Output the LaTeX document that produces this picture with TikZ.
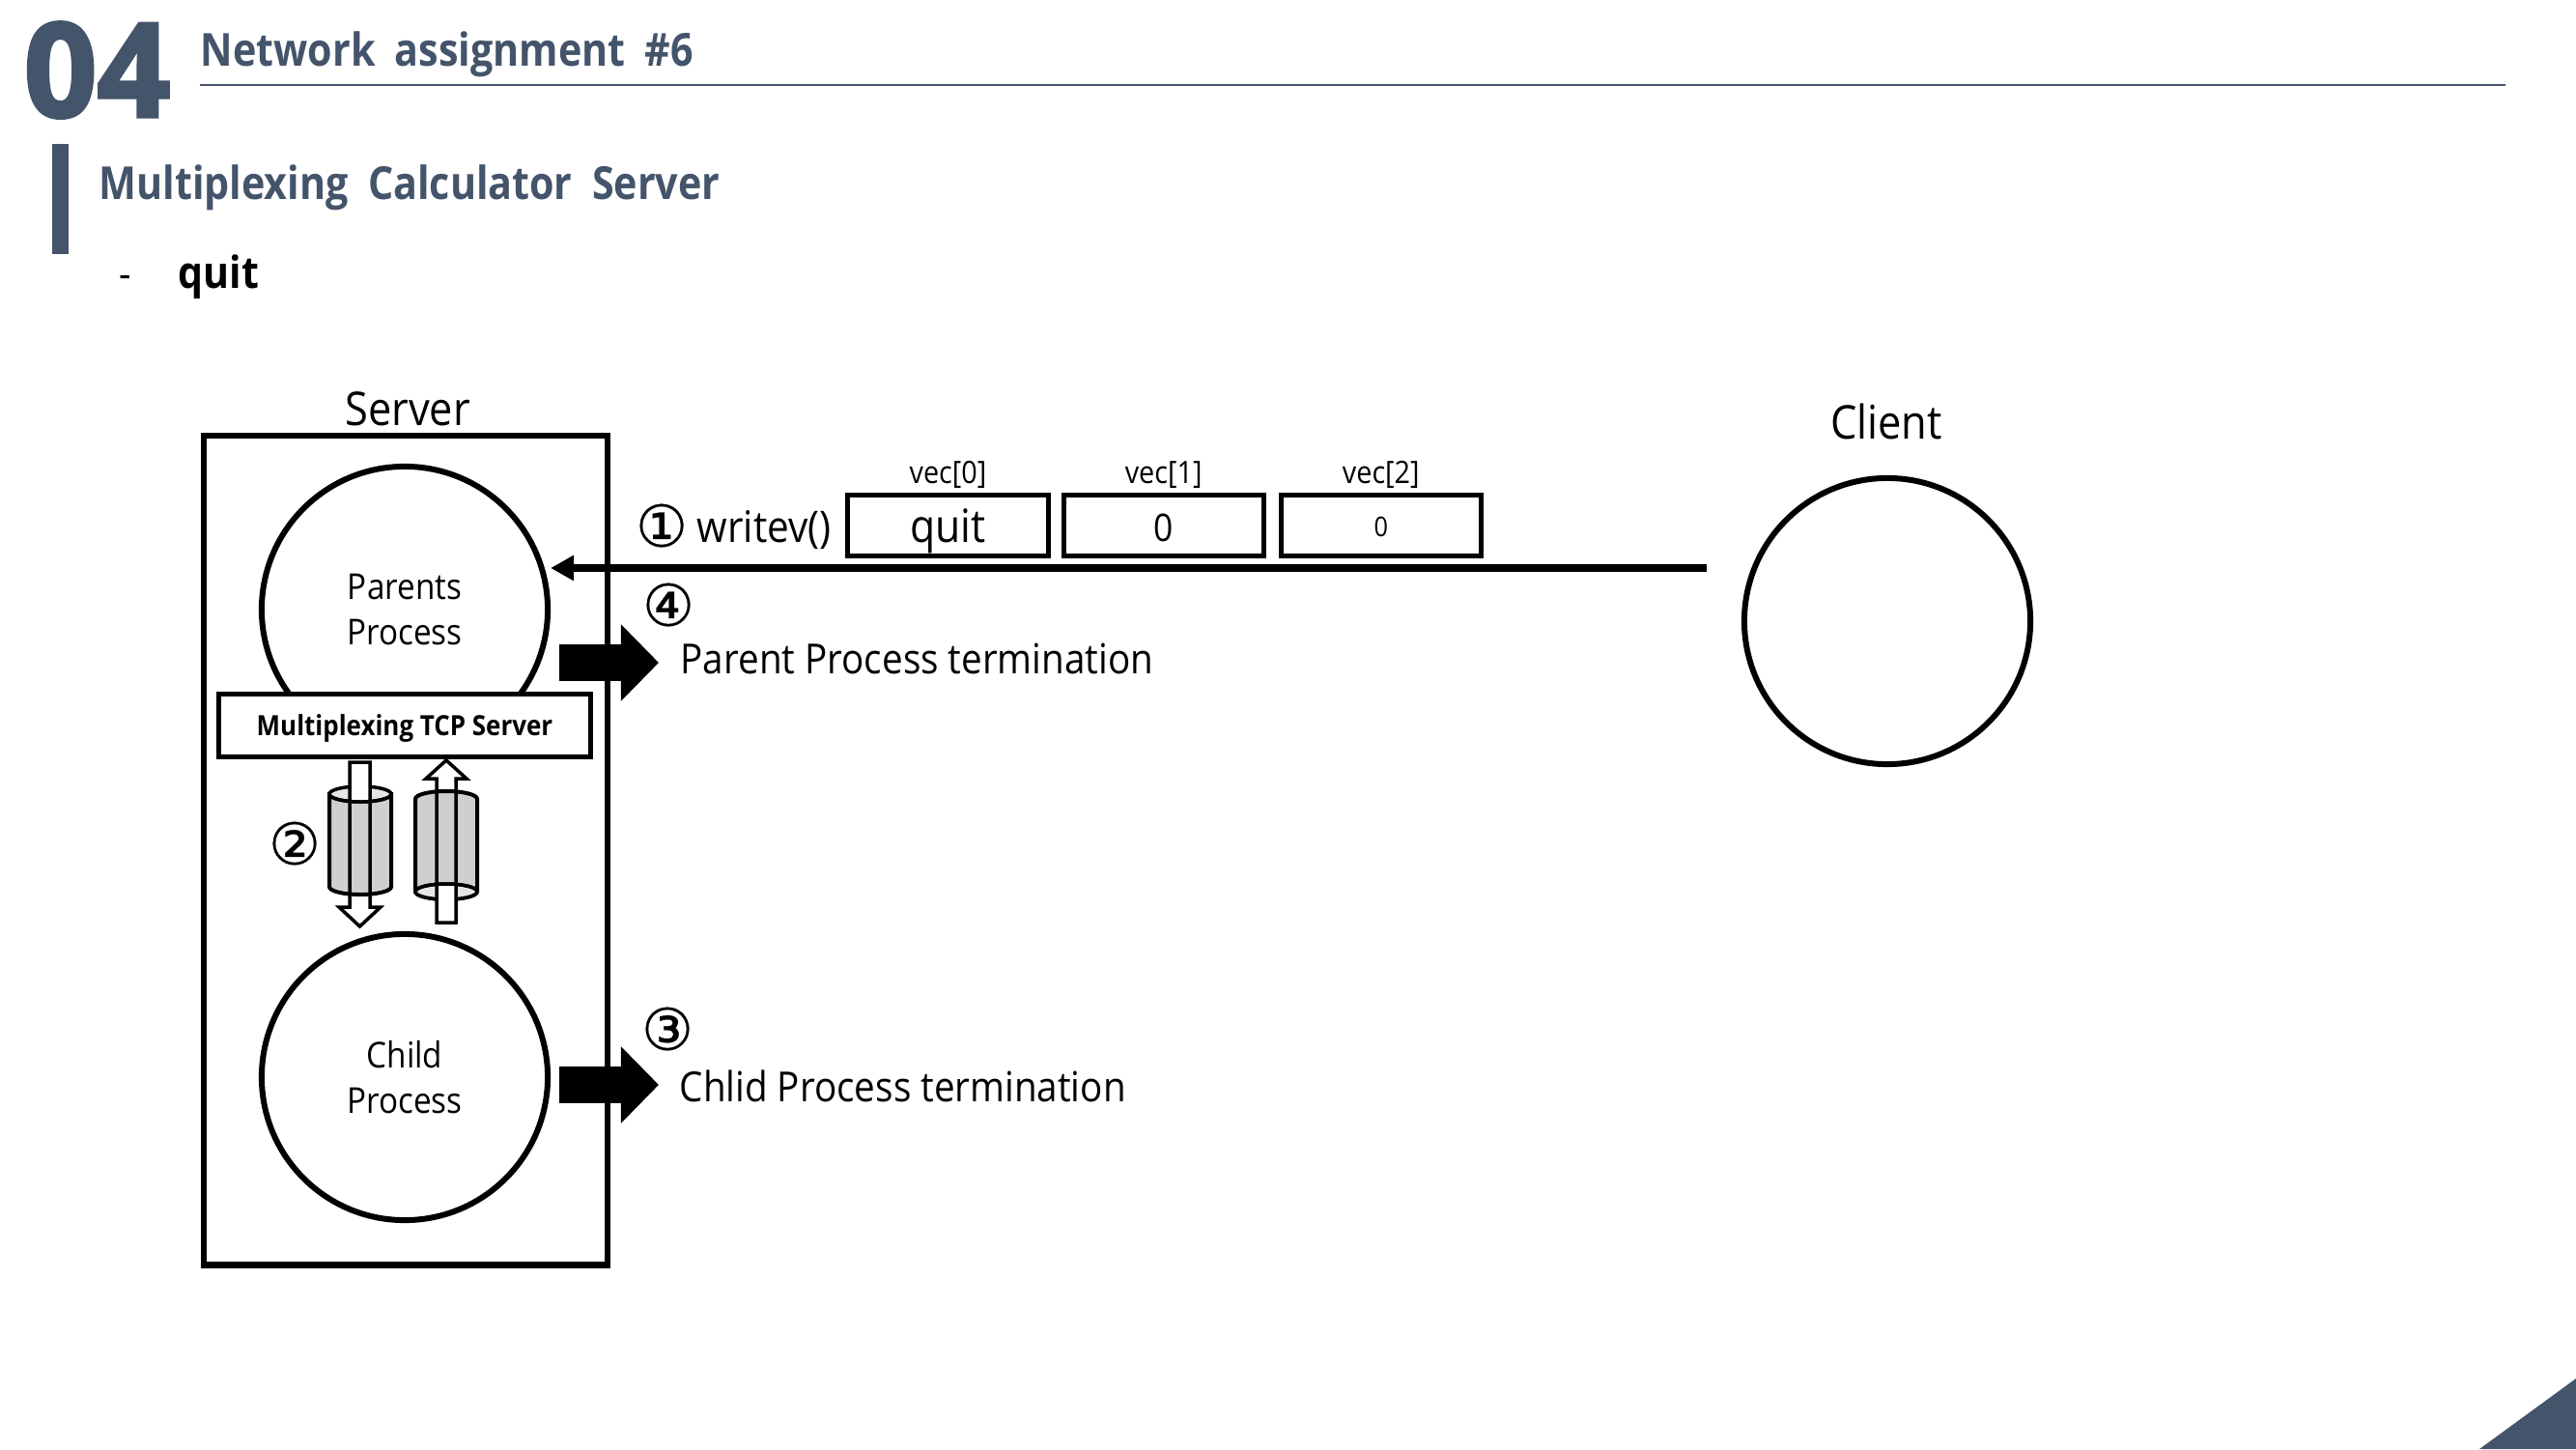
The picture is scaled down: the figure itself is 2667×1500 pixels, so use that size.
\documentclass[tikz,border=0pt]{standalone}
\usepackage{fontspec}
\setmainfont{Open Sans}[FakeStretch=.9]
\newfontfamily\headfont{Open Sans}[UprightFont=* Bold,FakeStretch=.875,WordSpace=1.9]
\newfontfamily\boldfont{Open Sans}[UprightFont=* Bold,FakeStretch=.9]
\newfontfamily\bignumfont{Open Sans}[UprightFont=* Bold,FakeBold=2.5,FakeStretch=.98]
\newfontfamily\circfont{DejaVu Sans}[FakeBold=.4]
\usetikzlibrary{arrows.meta,calc,positioning}
\definecolor{slateink}{HTML}{44546A}
\definecolor{pipegray}{HTML}{D0CECE}
\definecolor{pipetop}{HTML}{E7E6E6}
\tikzset{
  headtext/.style={anchor=base west, inner sep=0pt, text=slateink, font=\headfont\fontsize{13.4}{16}\selectfont},
  bodytext/.style={anchor=base west, inner sep=0pt, font=\fontsize{12.2}{14}\selectfont},
  minitext/.style={inner sep=0pt, font=\fontsize{9.1}{11}\selectfont},
  circnum/.style={inner sep=0pt, font=\circfont\fontsize{17}{17}\selectfont},
  procnode/.style={draw, circle, line width=.06cm, minimum size=2.96cm, inner sep=0pt, align=center,
    font=\fontsize{10.5}{13.4}\selectfont},
  vecbox/.style={draw, line width=.05cm, minimum width=2.07cm, minimum height=.63cm, inner sep=0pt,
    text height=9.5pt, text depth=0pt, font=\fontsize{11.2}{14}\selectfont},
  pipebody/.style={draw, line width=.04cm, fill=pipegray},
  pipecap/.style={draw, line width=.035cm, fill=pipetop},
  hollowflow/.style={draw, line width=.035cm},
  bigflow/.style={-{Triangle[length=.39cm,width=.77cm]}, line width=.38cm},
  wireflow/.style={-{Triangle[length=.24cm,width=.25cm]}, line width=.08cm}
}
\begin{document}
\begin{tikzpicture}[x=.01cm,y=-.01cm]
  \useasboundingbox (0,0) rectangle (2667,1500);
  % slide header
  \node[anchor=base west, inner sep=0pt, text=slateink, font=\bignumfont\fontsize{38.5}{40}\selectfont] (secnum) at (24,121) {04};
  \node[headtext] (title) at (207,69) {Network assignment \#6};
  \draw[slateink, line width=.025cm] (207,88) -- (2594,88);
  \fill[slateink] (54,149) rectangle (71,263);
  \node[headtext] (subtitle) at (102,206) {Multiplexing Calculator Server};
  \node[bodytext] (dash) at (123,298) {-};
  \node[bodytext, font=\boldfont\fontsize{13}{16}\selectfont] (quit) at (184,298) {quit};
  \fill[slateink] (2567,1500) -- (2667,1427) -- (2667,1500) -- cycle;

  % server side
  \node[draw, line width=.065cm, minimum width=4.18cm, minimum height=8.58cm, inner sep=0pt] (server) at (420,880) {};
  \node[bodytext, anchor=center, font=\fontsize{13.7}{16}\selectfont] (serverlabel) at (422,423) {Server};
  \node[procnode] (parents) at (419,631) {Parents\\Process};
  \node[procnode] (child) at (419,1115) {Child\\Process};
  \node[draw, fill=white, line width=.05cm, minimum width=3.84cm, minimum height=.65cm, inner sep=0pt,
    text height=6.2pt, text depth=.2pt, font=\boldfont\fontsize{8.2}{10}\selectfont] (muxserver) at (419,751) {Multiplexing TCP Server};

  % pipe towards the child
  \fill[white] (362,789) -- (383,789) -- (383,939) -- (394,939) -- (372.5,959) -- (351,939) -- (362,939) -- cycle;
  \filldraw[pipebody] (341,822) -- (341,918) arc[start angle=180,end angle=0,x radius=32,y radius=8] -- (405,822) -- cycle;
  \filldraw[pipecap] (373,822) ellipse[x radius=32,y radius=8];
  \fill[white] (362,789) rectangle (383,829);
  \draw[hollowflow] (362,789) -- (383,789) -- (383,939) -- (394,939) -- (372.5,959) -- (351,939) -- (362,939) -- cycle;
  \draw[pipecap, fill=none] (341,822) arc[start angle=180,end angle=0,x radius=32,y radius=8];
  % pipe towards the parent
  \fill[white] (452,955) -- (472,955) -- (472,806) -- (483,806) -- (462,787) -- (441,806) -- (452,806) -- cycle;
  \filldraw[pipebody] (430,827) arc[start angle=180,end angle=360,x radius=32,y radius=8] -- (494,923) arc[start angle=0,end angle=180,x radius=32,y radius=8] -- cycle;
  \filldraw[pipecap] (462,923) ellipse[x radius=32,y radius=8];
  \fill[white] (452,916) rectangle (472,955);
  \draw[hollowflow] (452,955) -- (472,955) -- (472,806) -- (483,806) -- (462,787) -- (441,806) -- (452,806) -- cycle;
  \draw[pipecap, fill=none] (430,923) arc[start angle=180,end angle=360,x radius=32,y radius=8];
  \node[circnum] (steptwo) at (305,873) {②};

  % client and the vector
  \node[bodytext, anchor=center, font=\fontsize{13.7}{16}\selectfont] (clientlabel) at (1953,436) {Client};
  \node[procnode] (client) at (1954,643) {};
  \coordinate (wirestart) at (1767,588);
  \draw[wireflow] (wirestart) -- (parents.east |- wirestart);
  \node[circnum] (stepone) at (685,544) {①};
  \node[bodytext, font=\fontsize{12.8}{14}\selectfont] (writev) at (721,561) {writev()};
  \node[vecbox, text height=11pt, text depth=.8pt, font=\fontsize{13.5}{16}\selectfont] (vecquit) at (981.5,544) {quit};
  \node[vecbox, right=.11cm of vecquit] (veczero) {0};
  \node[vecbox, right=.13cm of veczero, text height=6.4pt, font=\fontsize{8}{10}\selectfont] (vecnull) {0};
  \node[minitext, above=.04cm of vecquit] (veclabela) {vec[0]};
  \node[minitext, above=.04cm of veczero] (veclabelb) {vec[1]};
  \node[minitext, above=.04cm of vecnull] (veclabelc) {vec[2]};

  % termination notes
  \coordinate (parentout) at (579,686);
  \coordinate (childout) at (579,1123);
  \draw[bigflow] (parentout) -- ++(103,0);
  \draw[bigflow] (childout) -- ++(103,0);
  \node[circnum] (stepfour) at (692,626) {④};
  \node[bodytext] (parentnote) at (704,697) {Parent Process termination};
  \node[circnum] (stepthree) at (691,1065) {③};
  \node[bodytext] (childnote) at (703,1140) {Chlid Process termination};
\end{tikzpicture}
\end{document}
